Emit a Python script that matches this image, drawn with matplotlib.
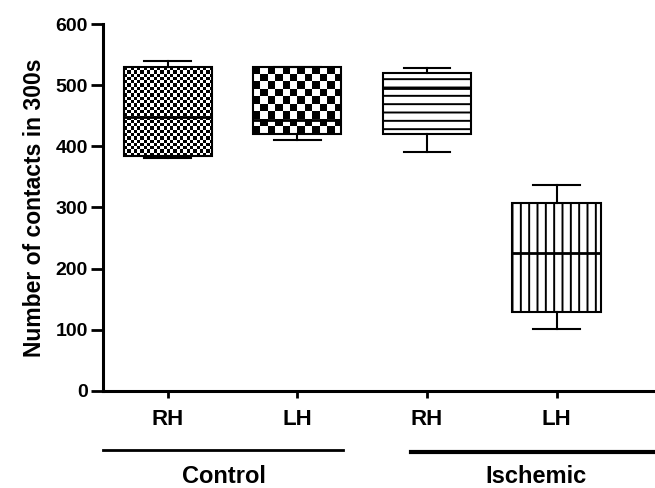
import matplotlib
matplotlib.use("Agg")
import matplotlib.pyplot as plt
import numpy as np

# box summary values
labels = ["RH", "LH", "RH", "LH"]
whislo = [381, 410, 390, 102]
q1 = [385, 420, 420, 129]
med = [448, 443, 495, 225]
q3 = [530, 530, 520, 307]
whishi = [540, 530, 528, 337]
groups = ["Control", "Ischemic"]

plt.rcParams['font.family'] = ['Liberation Sans', 'DejaVu Sans']
plt.rcParams['hatch.linewidth'] = 1.4

fig = plt.figure(figsize=(6.55, 4.88), dpi=100)
ax = fig.add_axes([0.1573, 0.1988, 0.8427, 0.752])

pos = np.arange(1, len(labels) + 1)
w = 0.68
stats = []
for i in range(len(labels)):
    stats.append(dict(med=med[i], q1=q1[i], q3=q3[i], whislo=whislo[i],
                      whishi=whishi[i], fliers=[], label=labels[i]))

bp = ax.bxp(stats, positions=pos, widths=w, patch_artist=True,
            showfliers=False,
            boxprops=dict(linewidth=1.5, edgecolor="black", facecolor="none"),
            whiskerprops=dict(linewidth=1.5, color="black"),
            capprops=dict(linewidth=1.5, color="black"),
            medianprops=dict(linewidth=2, color="black"),
            capwidths=0.36)
for b in bp["boxes"]:
    b.set_zorder(3)
for m in bp["medians"]:
    m.set_zorder(4)

# checkerboard fills for the control boxes
px_x = 129.4   # pixels per x unit
px_y = 0.6117  # pixels per y unit
for i, sq in [(0, 3.3), (1, 7.3)]:
    nx = int(round(w * px_x / sq))
    ny = int(round((q3[i] - q1[i]) * px_y / sq))
    board = (np.add.outer(np.arange(ny), np.arange(nx)) % 2).astype(float)
    ax.imshow(board, cmap="gray", interpolation="nearest", aspect="auto",
              extent=[pos[i] - w / 2, pos[i] + w / 2, q1[i], q3[i]],
              origin="lower", zorder=1)

bp["boxes"][2].set_hatch("--")
bp["boxes"][3].set_hatch("||")

ax.set_xlim(0.5, 4.76)
ax.set_ylim(0, 600)
ax.set_yticks([0, 100, 200, 300, 400, 500, 600])
ax.set_xticks(pos)
ax.set_xticklabels(labels)

for s in ["top", "right"]:
    ax.spines[s].set_visible(False)
for s in ["left", "bottom"]:
    ax.spines[s].set_linewidth(2.2)

ax.tick_params(axis="y", length=9, width=2, pad=2, labelsize=14)
ax.tick_params(axis="x", length=5, width=2, pad=8, labelsize=16)
for t in ax.get_xticklabels() + ax.get_yticklabels():
    t.set_fontweight("bold")

ax.set_ylabel("Number of contacts in 300s", fontsize=16.5, fontweight="bold",
              labelpad=7)

# group bars under the axis
tr = ax.get_xaxis_transform()
ax.plot([0.5, 2.35], [-0.161, -0.161], color="black", lw=2, transform=tr, clip_on=False)
ax.plot([2.88, 4.76], [-0.166, -0.166], color="black", lw=3, transform=tr, clip_on=False)
ax.text(1.43, -0.232, groups[0], transform=tr, ha="center", va="center",
        fontsize=17, fontweight="bold")
ax.text(3.84, -0.232, groups[1], transform=tr, ha="center", va="center",
        fontsize=17, fontweight="bold")

fig.savefig("out.png", dpi=100)
